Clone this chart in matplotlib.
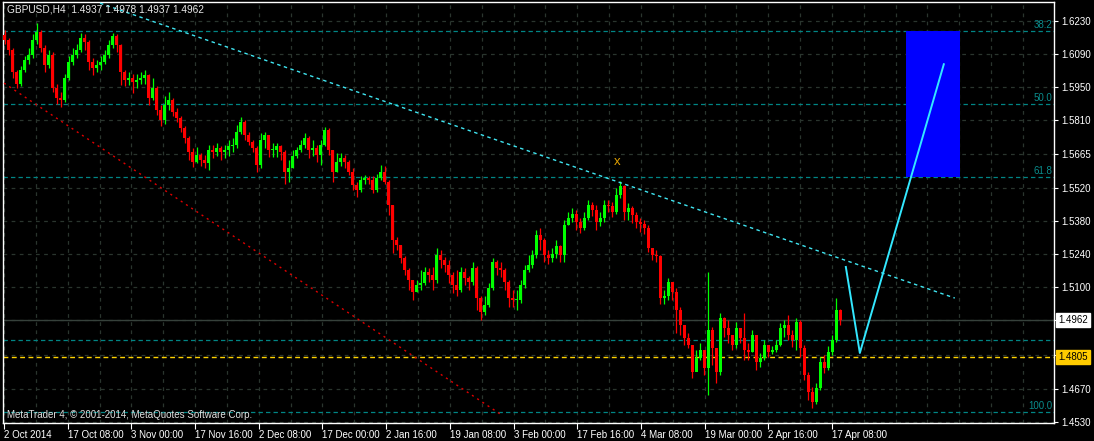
import numpy as np
import matplotlib
matplotlib.use("Agg")
import matplotlib.pyplot as plt
import matplotlib.transforms as mtransforms

# GBPUSD H4, one candle per 16 hours (4 H4 bars)
first_open = 1.6171
closes = [
    1.6149, 1.6107, 1.6014, 1.5963, 1.6022, 1.6065, 1.6086, 1.6149, 1.6183, 1.6115,
    1.6043, 1.6086, 1.5946, 1.5903, 1.5895, 1.5988, 1.6056, 1.6086, 1.6107, 1.6158,
    1.6141, 1.6056, 1.6031, 1.6043, 1.6056, 1.6086, 1.6128, 1.6166, 1.6128, 1.6014,
    1.5980, 1.5988, 1.5971, 1.5980, 1.5988, 1.6001, 1.5903, 1.5946, 1.5853, 1.5810,
    1.5874, 1.5895, 1.5844,
    1.5818, 1.5776, 1.5734, 1.5674, 1.5632, 1.5661, 1.5640, 1.5627, 1.5683, 1.5674,
    1.5691, 1.5674, 1.5683, 1.5700, 1.5704, 1.5759, 1.5801, 1.5746, 1.5717, 1.5691,
    1.5619, 1.5725, 1.5746, 1.5683, 1.5683, 1.5700, 1.5674, 1.5589, 1.5606, 1.5657,
    1.5683, 1.5704, 1.5734, 1.5683, 1.5691, 1.5661, 1.5704, 1.5768, 1.5683, 1.5589,
    1.5632, 1.5649, 1.5632,
    1.5589, 1.5534, 1.5513, 1.5556, 1.5564, 1.5556, 1.5513, 1.5564, 1.5589, 1.5547,
    1.5450, 1.5301, 1.5280, 1.5225, 1.5174, 1.5131, 1.5080, 1.5110, 1.5118, 1.5165,
    1.5152, 1.5131, 1.5237, 1.5216, 1.5195, 1.5152, 1.5110, 1.5089, 1.5165, 1.5140,
    1.5123, 1.5182, 1.5055, 1.4995, 1.5025, 1.5097, 1.5208, 1.5182, 1.5174, 1.5123,
    1.5055, 1.5046,
    1.5046, 1.5110, 1.5174, 1.5195, 1.5237, 1.5322, 1.5301, 1.5237, 1.5225, 1.5242,
    1.5276, 1.5237, 1.5365, 1.5394, 1.5411, 1.5377, 1.5352, 1.5394, 1.5450, 1.5428,
    1.5377, 1.5394, 1.5450, 1.5445, 1.5420, 1.5492, 1.5530, 1.5420, 1.5437, 1.5407,
    1.5377, 1.5369, 1.5352, 1.5267, 1.5237, 1.5233, 1.5055, 1.5063, 1.5123, 1.5080,
    1.5004, 1.4940, 1.4885,
    1.4856, 1.4741, 1.4800, 1.4834, 1.4758, 1.4919, 1.4843, 1.4741, 1.4970, 1.4928,
    1.4898, 1.4856, 1.4928, 1.4885, 1.4834, 1.4826, 1.4898, 1.4783, 1.4800, 1.4856,
    1.4826, 1.4834, 1.4856, 1.4928, 1.4940, 1.4898, 1.4877, 1.4953, 1.4843, 1.4728,
    1.4656, 1.4614, 1.4673, 1.4783, 1.4758, 1.4826, 1.4877, 1.5004, 1.4962,
]
highs = [
    1.6192, 1.6158, 1.6115, 1.6022, 1.6039, 1.6081, 1.6115, 1.6175, 1.6221, 1.6192,
    1.6128, 1.6107, 1.6098, 1.5963, 1.5929, 1.6005, 1.6081, 1.6115, 1.6132, 1.6179,
    1.6175, 1.6149, 1.6073, 1.6065, 1.6081, 1.6107, 1.6149, 1.6179, 1.6175, 1.6132,
    1.6022, 1.6014, 1.6005, 1.6005, 1.6014, 1.6022, 1.6005, 1.5988, 1.5954, 1.5874,
    1.5912, 1.5929, 1.5903,
    1.5861, 1.5827, 1.5784, 1.5742, 1.5691, 1.5695, 1.5670, 1.5661, 1.5704, 1.5704,
    1.5712, 1.5700, 1.5704, 1.5725, 1.5734, 1.5789, 1.5822, 1.5810, 1.5759, 1.5725,
    1.5700, 1.5755, 1.5759, 1.5725, 1.5712, 1.5712, 1.5704, 1.5683, 1.5640, 1.5683,
    1.5695, 1.5725, 1.5755, 1.5742, 1.5725, 1.5704, 1.5725, 1.5780, 1.5776, 1.5683,
    1.5670, 1.5670, 1.5661,
    1.5640, 1.5606, 1.5547, 1.5572, 1.5577, 1.5572, 1.5572, 1.5581, 1.5619, 1.5615,
    1.5556, 1.5450, 1.5314, 1.5280, 1.5233, 1.5182, 1.5131, 1.5131, 1.5174, 1.5186,
    1.5182, 1.5186, 1.5267, 1.5259, 1.5229, 1.5216, 1.5165, 1.5174, 1.5186, 1.5182,
    1.5148, 1.5208, 1.5190, 1.5063, 1.5063, 1.5118, 1.5225, 1.5216, 1.5208, 1.5182,
    1.5131, 1.5089,
    1.5089, 1.5131, 1.5195, 1.5237, 1.5259, 1.5343, 1.5352, 1.5310, 1.5259, 1.5267,
    1.5301, 1.5280, 1.5386, 1.5420, 1.5437, 1.5428, 1.5394, 1.5420, 1.5471, 1.5462,
    1.5450, 1.5420, 1.5471, 1.5471, 1.5462, 1.5522, 1.5551, 1.5534, 1.5458, 1.5445,
    1.5420, 1.5394, 1.5386, 1.5365, 1.5267, 1.5259, 1.5237, 1.5089, 1.5140, 1.5114,
    1.5097, 1.5017, 1.4919,
    1.4906, 1.4856, 1.4834, 1.4864, 1.4792, 1.5165, 1.4932, 1.4813, 1.4991, 1.4974,
    1.4962, 1.4898, 1.4953, 1.4919, 1.4991, 1.4864, 1.4919, 1.4877, 1.4821, 1.4877,
    1.4856, 1.4851, 1.4877, 1.4949, 1.4962, 1.4983, 1.4919, 1.4970, 1.4962, 1.4856,
    1.4741, 1.4677, 1.4694, 1.4805, 1.4813, 1.4851, 1.4898, 1.5055, 1.5008,
]
lows = [
    1.6132, 1.6086, 1.5988, 1.5946, 1.5954, 1.6014, 1.6048, 1.6073, 1.6132, 1.6098,
    1.6014, 1.6031, 1.5929, 1.5878, 1.5865, 1.5886, 1.5980, 1.6043, 1.6073, 1.6098,
    1.6107, 1.6022, 1.6001, 1.6014, 1.6022, 1.6048, 1.6073, 1.6115, 1.6098, 1.5959,
    1.5954, 1.5959, 1.5925, 1.5946, 1.5963, 1.5963, 1.5874, 1.5895, 1.5831, 1.5784,
    1.5793, 1.5853, 1.5827,
    1.5801, 1.5759, 1.5712, 1.5640, 1.5611, 1.5627, 1.5615, 1.5606, 1.5598, 1.5649,
    1.5657, 1.5640, 1.5649, 1.5657, 1.5674, 1.5691, 1.5751, 1.5725, 1.5704, 1.5674,
    1.5589, 1.5606, 1.5691, 1.5653, 1.5653, 1.5653, 1.5640, 1.5538, 1.5547, 1.5606,
    1.5649, 1.5674, 1.5691, 1.5649, 1.5657, 1.5632, 1.5619, 1.5700, 1.5661, 1.5547,
    1.5589, 1.5615, 1.5606,
    1.5577, 1.5513, 1.5483, 1.5505, 1.5539, 1.5539, 1.5500, 1.5505, 1.5556, 1.5539,
    1.5407, 1.5246, 1.5259, 1.5203, 1.5153, 1.5089, 1.5046, 1.5080, 1.5089, 1.5110,
    1.5123, 1.5089, 1.5118, 1.5182, 1.5165, 1.5118, 1.5076, 1.5063, 1.5080, 1.5110,
    1.5089, 1.5110, 1.5004, 1.4962, 1.4983, 1.5017, 1.5089, 1.5153, 1.5144, 1.5089,
    1.5017, 1.5017,
    1.5004, 1.5034, 1.5097, 1.5165, 1.5182, 1.5225, 1.5259, 1.5208, 1.5199, 1.5208,
    1.5225, 1.5208, 1.5208, 1.5365, 1.5377, 1.5343, 1.5331, 1.5343, 1.5386, 1.5403,
    1.5343, 1.5360, 1.5377, 1.5420, 1.5399, 1.5411, 1.5479, 1.5386, 1.5386, 1.5373,
    1.5352, 1.5335, 1.5326, 1.5250, 1.5216, 1.5208, 1.5029, 1.5029, 1.5046, 1.5046,
    1.4906, 1.4898, 1.4856,
    1.4843, 1.4715, 1.4749, 1.4792, 1.4728, 1.4644, 1.4771, 1.4694, 1.4728, 1.4889,
    1.4864, 1.4834, 1.4843, 1.4864, 1.4792, 1.4792, 1.4826, 1.4749, 1.4762, 1.4792,
    1.4805, 1.4817, 1.4826, 1.4851, 1.4889, 1.4877, 1.4847, 1.4834, 1.4805, 1.4707,
    1.4622, 1.4588, 1.4605, 1.4665, 1.4737, 1.4749, 1.4813, 1.4868, 1.4940,
]
opens = [first_open] + closes[:-1]

date_labels = ["2 Oct 2014", "17 Oct 08:00", "3 Nov 00:00", "17 Nov 16:00", "2 Dec 08:00",
               "17 Dec 00:00", "2 Jan 16:00", "19 Jan 08:00", "3 Feb 00:00", "17 Feb 16:00",
               "4 Mar 08:00", "19 Mar 00:00", "2 Apr 16:00", "17 Apr 08:00"]
price_ticks = [1.6230, 1.6090, 1.5950, 1.5810, 1.5665, 1.5520, 1.5380, 1.5240, 1.5100,
               1.4960, 1.4815, 1.4670, 1.4530]
price_labels = ["1.6230", "1.6090", "1.5950", "1.5810", "1.5665", "1.5520", "1.5380",
                "1.5240", "1.5100", "", "", "1.4670", "1.4530"]

fib_levels = [1.6188, 1.5878, 1.5568, 1.4571]
fib_names = ["38.2", "50.0", "61.8", "100.0"]
hline_teal = 1.4877
bid_price = 1.4962
yellow_price = 1.4805

# drawn objects (x in candle units)
trend_x = [23.85, 237.6]
trend_y = [1.6306, 1.5055]
channel_x = [-0.15, 123.85]
channel_y = [1.5967, 1.4564]
target_x = [225.35, 238.85]
target_y = [1.5568, 1.6188]
path_x = [210.35, 213.85, 234.85]
path_y = [1.5187, 1.4822, 1.6047]
mark_x, mark_y = 153.1, 1.5632

bg = "#000000"
grid_c = "#2a352e"
fig = plt.figure(figsize=(10.94, 4.41), dpi=100, facecolor=bg)
ax = fig.add_axes([3 / 1094, 18 / 441, 1051 / 1094, 421 / 441], facecolor=bg)
font = "Liberation Sans"

ax.set_xlim(-0.4, 262.4)
ax.set_ylim(1.4525, 1.6311)

# grid
grid_x = -0.15 + 7.9625 * np.arange(34)
for gx in grid_x:
    ax.axvline(gx, color=grid_c, lw=0.9, ls=(0, (3, 3.5)), zorder=1)
for gy in price_ticks:
    ax.axhline(gy, color=grid_c, lw=0.9, ls=(0, (3, 3.5)), zorder=1)

# fib levels
for lv, nm in zip(fib_levels, fib_names):
    ax.axhline(lv, color="#008585", lw=0.9, ls=(0, (3.5, 2.5)), zorder=2)
    ax.text(262.0, lv + 0.0006, nm, color="#0a8c8c", fontsize=7, family=font,
            ha="right", va="bottom", zorder=3)
ax.axhline(hline_teal, color="#008585", lw=0.9, ls=(0, (3.5, 2.5)), zorder=2)
ax.axhline(bid_price, color="#36413b", lw=1.0, zorder=2)
ax.axhline(yellow_price, color="#ffd200", lw=1.0, ls=(0, (3.5, 2.5)), zorder=2)

# target zone
ax.fill_between(target_x, target_y[0], target_y[1], color="#0000ff", lw=0, zorder=2)

# candles
xs = np.arange(len(closes))
o = np.array(opens)
c = np.array(closes)
up = c >= o
cols = np.where(up, "#00ff00", "#ff0000")
ax.vlines(xs, lows, highs, colors=cols, lw=0.9, zorder=4)
body_lo = np.minimum(o, c)
body_h = np.maximum(np.abs(c - o), 0.0004)
ax.bar(xs, body_h, bottom=body_lo, width=0.78, color=cols, lw=0, zorder=4)

# trend lines
ax.plot(trend_x, trend_y, color="#40e6f2", lw=1.0, ls=(0, (2.5, 2.5)), zorder=5)
ax.plot(channel_x, channel_y, color="#e00000", lw=1.0, ls=(0, (1.5, 3)), zorder=5)
ax.plot(path_x, path_y, color="#33e8ff", lw=1.4, zorder=5)
ax.text(mark_x, mark_y, "x", color="#e0a000", fontsize=9.5, family=font,
        ha="center", va="center", zorder=6)

# frame
for sp in ax.spines.values():
    sp.set_color("white")
    sp.set_linewidth(1.0)

ax.yaxis.tick_right()
ax.set_yticks(price_ticks)
ax.set_yticklabels(price_labels)
ax.tick_params(axis="y", colors="white", length=3, width=0.8, pad=2, labelsize=7)
ax.set_xticks(grid_x[::2][:len(date_labels)])
ax.set_xticklabels(date_labels)
ax.tick_params(axis="x", colors="white", length=4, width=0.8, pad=1, labelsize=7)
for lab in ax.get_xticklabels():
    lab.set_horizontalalignment("left")
    lab.set_family(font)
for lab in ax.get_yticklabels():
    lab.set_family(font)

tr = mtransforms.blended_transform_factory(ax.transAxes, ax.transData)
ax.text(1.004, bid_price, "1.4962", transform=tr, color="black", fontsize=7, family=font,
        va="center", ha="left", zorder=10,
        bbox=dict(boxstyle="square,pad=0.25", fc="white", ec="white"), clip_on=False)
ax.text(1.004, yellow_price, "1.4805", transform=tr, color="black", fontsize=7, family=font,
        va="center", ha="left", zorder=10,
        bbox=dict(boxstyle="square,pad=0.25", fc="#ffcc00", ec="#ffcc00"), clip_on=False)

ax.text(0.004, 0.982, "GBPUSD,H4  1.4937 1.4978 1.4937 1.4962", transform=ax.transAxes,
        color="#e8e8e8", fontsize=7.3, family=font, ha="left", va="center", zorder=10)
ax.text(0.004, 0.018, "MetaTrader 4, \u00a9 2001-2014, MetaQuotes Software Corp.",
        transform=ax.transAxes, color="#e0e0e0", fontsize=7, family=font,
        ha="left", va="center", zorder=10)

fig.savefig("out.png", dpi=100, facecolor=bg)
